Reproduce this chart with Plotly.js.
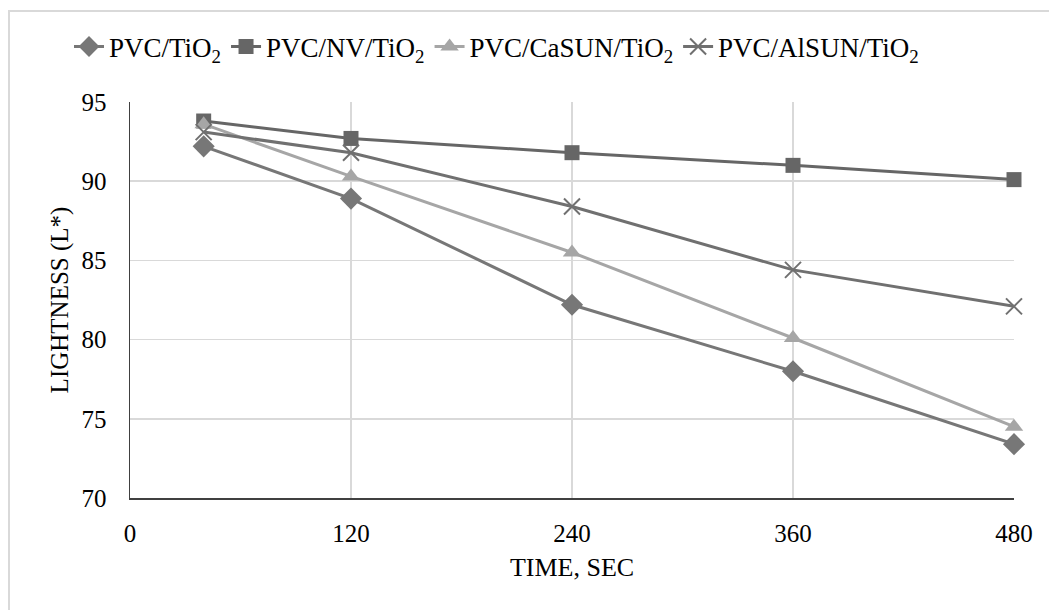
<!DOCTYPE html>
<html>
<head>
<meta charset="utf-8">
<script src="https://cdn.plot.ly/plotly-3.0.1.min.js"></script>
<style>
html,body{margin:0;padding:0;background:#fff;}
#wrap{position:relative;width:1049px;height:610px;overflow:hidden;}
#chart{position:absolute;left:0;top:0;width:1049px;height:610px;}
#frame{position:absolute;left:8px;top:10px;width:1100px;height:700px;border:2px solid #d9d9d9;box-sizing:border-box;pointer-events:none;}
.warm{position:absolute;left:1040px;top:600px;font-size:2px;color:#fff;line-height:2px;}
</style>
</head>
<body>
<div id="wrap"><div id="chart"></div><div id="frame"></div>
<div class="warm" style="font-family:'Liberation Serif'">.</div>
<div class="warm" style="font-family:'Times New Roman'">.</div>
</div>
<script>
const time = [40, 120, 240, 360, 480];
const seriesNames = ["PVC/TiO<sub>2</sub>", "PVC/NV/TiO<sub>2</sub>", "PVC/CaSUN/TiO<sub>2</sub>", "PVC/AlSUN/TiO<sub>2</sub>"];
const pvcTiO2 = [92.2, 88.9, 82.2, 78.0, 73.4];
const pvcNvTiO2 = [93.8, 92.7, 91.8, 91.0, 90.1];
const pvcCaSunTiO2 = [93.6, 90.3, 85.5, 80.1, 74.5];
const pvcAlSunTiO2 = [93.1, 91.8, 88.4, 84.4, 82.1];
const xTicks = [0, 120, 240, 360, 480];
const yTicks = [70, 75, 80, 85, 90, 95];

const FONT = "Liberation Serif";
const traces = [
  {x: time, y: pvcTiO2, name: seriesNames[0], mode: "lines+markers", cliponaxis: false,
   line: {color: "#777777", width: 3},
   marker: {symbol: "diamond", size: 17, color: "#777777"}},
  {x: time, y: pvcNvTiO2, name: seriesNames[1], mode: "lines+markers", cliponaxis: false,
   line: {color: "#666666", width: 3},
   marker: {symbol: "square", size: 15, color: "#666666"}},
  {x: time, y: pvcCaSunTiO2, name: seriesNames[2], mode: "lines+markers", cliponaxis: false,
   line: {color: "#a6a6a6", width: 3},
   marker: {symbol: "triangle-up", size: 16, color: "#a6a6a6"}},
  {x: time, y: pvcAlSunTiO2, name: seriesNames[3], mode: "lines+markers", cliponaxis: false,
   line: {color: "#707070", width: 3},
   marker: {symbol: "x-thin", size: 16, color: "#707070", line: {color: "#707070", width: 2}}}
];

const layout = {
  width: 1049, height: 610,
  margin: {l: 130, r: 35, t: 102, b: 112},
  paper_bgcolor: "#ffffff", plot_bgcolor: "#ffffff",
  font: {family: FONT, size: 25, color: "#000000"},
  showlegend: true,
  legend: {orientation: "h", x: -0.069, xanchor: "left", y: 1.139, yanchor: "middle",
           font: {family: FONT, size: 27, color: "#000"}, tracegroupgap: 0, itemwidth: 30},
  xaxis: {
    range: [0, 480], tickvals: xTicks, ticktext: xTicks.map(String),
    showgrid: true, gridcolor: "#d9d9d9", gridwidth: 1.5,
    showline: true, linecolor: "#404040", linewidth: 1.5, zeroline: false,
    ticks: "", ticklabelstandoff: 12,
    tickfont: {family: FONT, size: 25, color: "#000"},
    title: {text: "TIME, SEC", font: {family: FONT, size: 26, color: "#000"}, standoff: 12}
  },
  yaxis: {
    range: [70, 95], tickvals: yTicks, ticktext: yTicks.map(String),
    showgrid: true, gridcolor: "#d9d9d9", gridwidth: 1.5,
    showline: true, linecolor: "#404040", linewidth: 1.5, zeroline: false,
    ticks: "", ticklabelstandoff: 17,
    tickfont: {family: FONT, size: 25, color: "#000"},
    title: {text: "LIGHTNESS (L*)", font: {family: FONT, size: 25, color: "#000"}, standoff: 6}
  }
};

function draw() {
  Plotly.newPlot("chart", traces, layout, {displayModeBar: false, staticPlot: true});
}
if (document.fonts && document.fonts.load) {
  Promise.all([
    document.fonts.load('25px "Liberation Serif"'),
    document.fonts.load('25px "Times New Roman"')
  ]).then(draw, draw);
} else {
  draw();
}
</script>
</body>
</html>
